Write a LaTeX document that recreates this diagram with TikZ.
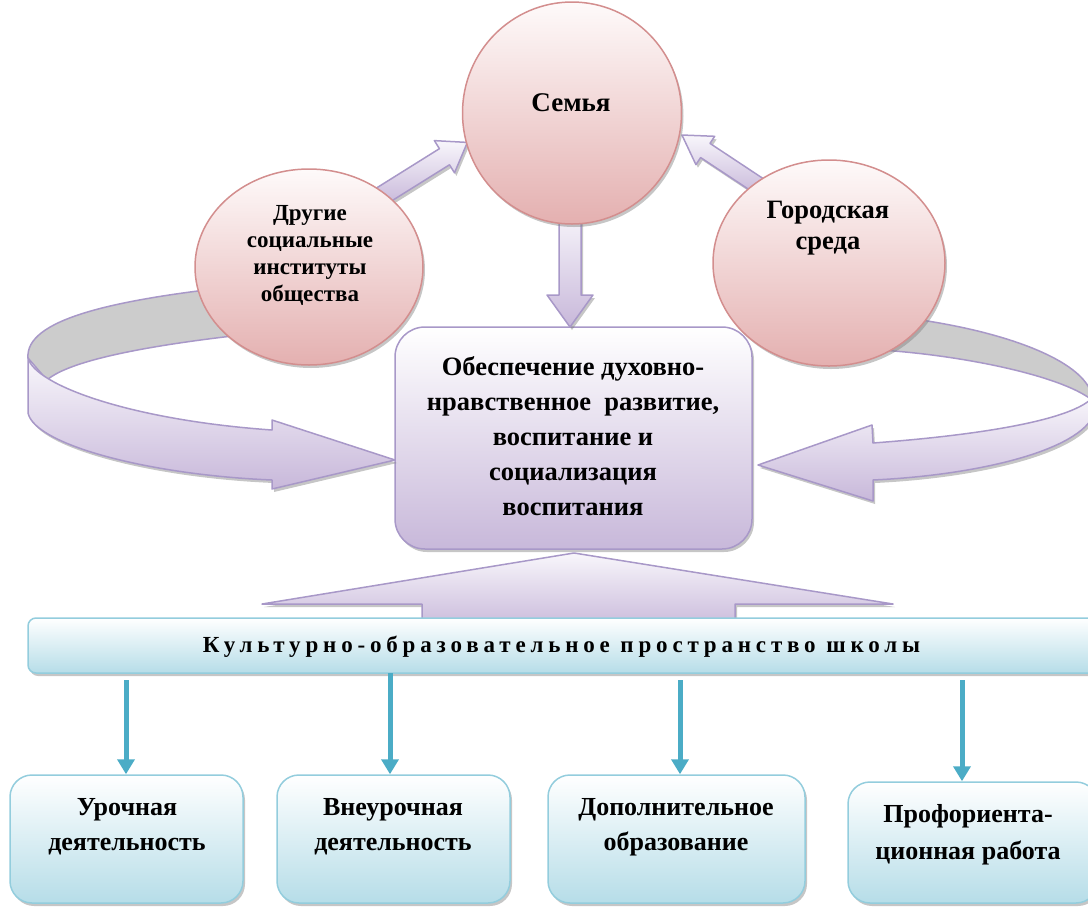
\documentclass[tikz,border=0pt]{standalone}
\usepackage{fontspec}
\setmainfont{Liberation Serif}
\newfontfamily\spacedfont[LetterSpace=21]{Liberation Serif}
\usetikzlibrary{shadows,shapes.geometric,arrows.meta}
\definecolor{lavb}{HTML}{A898C8}
\definecolor{lavt}{HTML}{F8F6FB}
\definecolor{lavbot}{HTML}{C8B8DA}
\definecolor{pinkb}{HTML}{D38E8E}
\definecolor{pinkt}{HTML}{FEFAFA}
\definecolor{pinkbot}{HTML}{E4B0B0}
\definecolor{cyb}{HTML}{93CDDD}
\definecolor{cybot}{HTML}{B6DDE8}
\definecolor{blueac}{HTML}{4BACC6}
\definecolor{ribgray}{HTML}{CCCCCC}
\begin{document}
\begin{tikzpicture}[x=1pt,y=-1pt,
  shd/.style={drop shadow={shadow xshift=2pt,shadow yshift=-3pt,fill=black!50,opacity=0.45}},
  lav/.style={draw=lavb,line width=1.5pt,top color=lavt,bottom color=lavbot,line join=round},
  pinkcirc/.style={ellipse,draw=pinkb,line width=1.5pt,top color=pinkt,bottom color=pinkbot,shd,inner sep=0pt},
  cyanbox/.style={draw=cyb,line width=1.5pt,top color=white,bottom color=cybot,shd,inner sep=0pt},
  bluearr/.style={draw=blueac,line width=5pt,-{Triangle[width=17pt,length=15pt]}},
  txt/.style={font=\bfseries\fontsize{26}{35}\selectfont,align=center,inner sep=0pt},
  ctxt/.style={font=\bfseries\fontsize{23}{27}\selectfont,align=center,inner sep=0pt}]
\useasboundingbox (0,0) rectangle (1088,906);

% ---- ribbon backs (grey inner side)
\path[fill=ribgray,draw=lavb,line width=1.5pt]
  (28,358) .. controls (25,320) and (110,300) .. (240,286) -- (250,334)
  .. controls (150,345) and (70,360) .. (47,380) -- cycle;
\path[fill=ribgray,draw=lavb,line width=1.5pt]
  (890,316) .. controls (1000,328) and (1085,360) .. (1092,396) -- (1092,400)
  .. controls (1060,375) and (960,355) .. (880,350) -- cycle;

% ---- central box
\node[draw=lavb,line width=1.5pt,top color=white,bottom color=lavbot,rounded corners=30pt,
      minimum width=357pt,minimum height=222pt,shd] (core) at (573.5,438) {};

% ---- ribbon fronts
\path[lav,shd]
  (28,358) -- (28,413) .. controls (35,445) and (150,475) .. (272,480) -- (272,489)
  -- (395,460) -- (272,420) -- (272,430) .. controls (130,420) and (35,385) .. (28,358) -- cycle;
\path[lav,shd]
  (1094,396) -- (1094,414) .. controls (1080,450) and (980,475) .. (873,480) -- (873,501)
  -- (758,465) -- (872,425) -- (873,443) .. controls (980,435) and (1075,420) .. (1094,396) -- cycle;

% ---- small diagonal arrows
\begin{scope}[shift={(380,197)},rotate=32]
  \path[lav,shd] (0,-9.5) -- (76,-9.5) -- (76,-19) -- (103,0) -- (76,19) -- (76,9.5) -- (0,9.5) -- cycle;
\end{scope}
\begin{scope}[shift={(762,188)},rotate=146.5]
  \path[lav,shd] (0,-8.5) -- (68,-8.5) -- (68,-17) -- (96,0) -- (68,17) -- (68,8.5) -- (0,8.5) -- cycle;
\end{scope}

% ---- down arrow from the family circle
\path[lav,shd] (559,210) -- (559,295) -- (547,295) -- (570,327) -- (593,295) -- (581,295) -- (581,210) -- cycle;

% ---- circles
\node[pinkcirc,minimum width=219pt,minimum height=222pt] (family) at (572,113) {};
\node[pinkcirc,minimum width=228pt,minimum height=196pt] (others) at (309,267) {};
\node[pinkcirc,minimum width=232pt,minimum height=206pt] (city) at (829,263) {};

\node[ctxt,font=\bfseries\fontsize{27}{31}\selectfont] (tfamily) at (571,103) {Семья};
\node[ctxt] (tothers) at (310,255) {Другие\\социальные\\институты\\общества};
\node[ctxt,font=\bfseries\fontsize{26.5}{31}\selectfont] (tcity) at (828,228) {Городская\\среда};

\node[txt,font=\bfseries\fontsize{26.5}{35}\selectfont] (tcore) at (573,436)
  {Обеспечение духовно-\\нравственное\ \ развитие,\\воспитание и\\социализация\\воспитания};

% ---- wide up arrow
\path[lav,shd] (422,630) -- (422,604) -- (262,604) -- (574,553) -- (893,604) -- (735,604) -- (735,630) -- cycle;

% ---- banner
\node[cyanbox,rounded corners=8pt,minimum width=1072pt,minimum height=55pt] (banner) at (564,645.5) {};
\node[inner sep=0pt,font=\spacedfont\bfseries\fontsize{23}{25}\selectfont] (tbanner) at (561.5,647)
  {Культурно-образовательное пространство школы};

% ---- bottom boxes
\node[cyanbox,rounded corners=22pt,minimum width=233pt,minimum height=128pt] (b1) at (126.5,839) {};
\node[cyanbox,rounded corners=22pt,minimum width=233pt,minimum height=128pt] (b2) at (393.5,839) {};
\node[cyanbox,rounded corners=22pt,minimum width=257pt,minimum height=128pt] (b3) at (676.5,839) {};
\node[cyanbox,rounded corners=22pt,minimum width=250pt,minimum height=121pt] (b4) at (973,842.5) {};

\node[txt] (t1) at (127,827) {Урочная\\деятельность};
\node[txt] (t2) at (393,827) {Внеурочная\\деятельность};
\node[txt] (t3) at (676,827) {Дополнительное\\образование};
\node[txt,font=\bfseries\fontsize{26}{37}\selectfont] (t4) at (968,835) {Профориента-\\ционная работа};

% ---- blue connectors
\coordinate (s1) at (126,680);
\coordinate (s2) at (390,673);
\coordinate (s3) at (680,680);
\coordinate (s4) at (962,680);
\draw[bluearr] (s1) -- (b1.north -| s1);
\draw[bluearr] (s2) -- (b2.north -| s2);
\draw[bluearr] (s3) -- (b3.north -| s3);
\draw[bluearr] (s4) -- (b4.north -| s4);
\end{tikzpicture}
\end{document}
